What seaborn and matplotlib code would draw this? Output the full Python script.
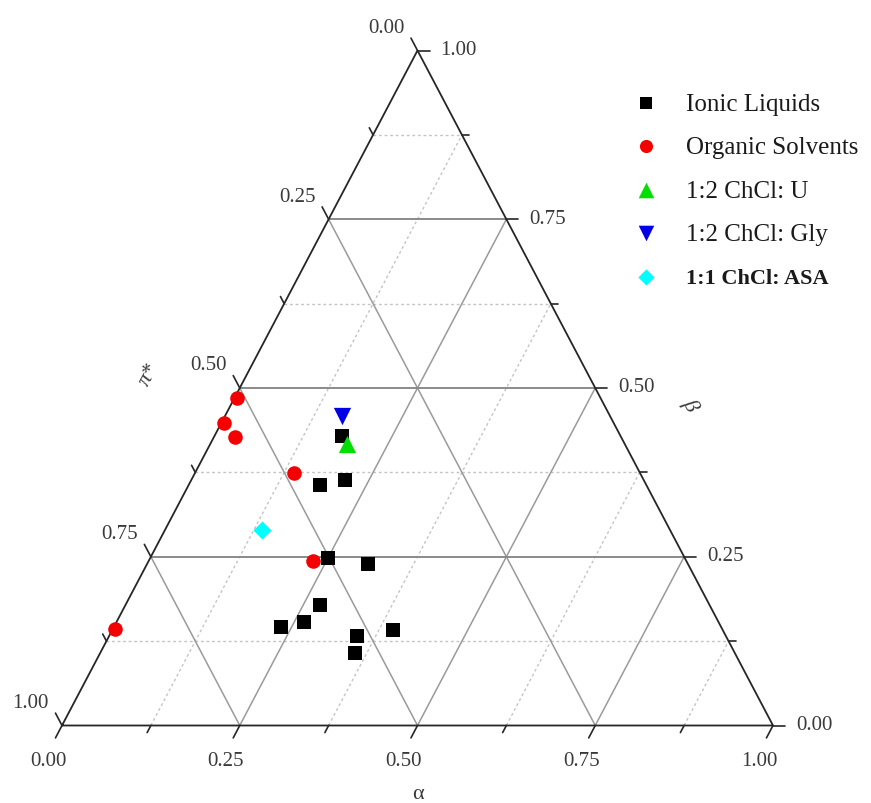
import numpy as np
import pandas as pd
import matplotlib
matplotlib.use("Agg")
import matplotlib.pyplot as plt
import seaborn as sns

# ---- data (normalised Kamlet-Taft parameters: alpha, beta; pi* = 1 - alpha - beta)
il_alpha = [0.179, 0.185, 0.216, 0.250, 0.311, 0.273, 0.264, 0.235, 0.349, 0.395, 0.358]
il_beta = [0.429, 0.356, 0.364, 0.248, 0.239, 0.179, 0.154, 0.146, 0.132, 0.142, 0.107]
os_alpha = [0.004, 0.004, 0.029, 0.139, 0.231, 0.003]
os_beta = [0.485, 0.448, 0.428, 0.374, 0.244, 0.143]
u_alpha = [0.192]
u_beta = [0.417]
gly_alpha = [0.164]
gly_beta = [0.459]
asa_alpha = [0.137]
asa_beta = [0.289]

group_names = ["Ionic Liquids", "Organic Solvents", "1:2 ChCl: U", "1:2 ChCl: Gly", "1:1 ChCl: ASA"]
tick_values = [0.0, 0.25, 0.5, 0.75, 1.0]
tick_labels = ["0.00", "0.25", "0.50", "0.75", "1.00"]
minor_values = [0.125, 0.375, 0.625, 0.875]
axis_titles = ["\u03b1", "\u03b2", "\u03c0*"]

rows = []
for name, al, be in zip(group_names,
                        [il_alpha, os_alpha, u_alpha, gly_alpha, asa_alpha],
                        [il_beta, os_beta, u_beta, gly_beta, asa_beta]):
    for a, b in zip(al, be):
        rows.append({"group": name, "alpha": a, "beta": b, "pi": 1 - a - b})
df = pd.DataFrame(rows)
# ternary projection: alpha vertex right, beta vertex top, pi* vertex left
df["x"] = df["alpha"] + df["beta"] / 2
df["y"] = df["beta"]

styles = {
    "Ionic Liquids": dict(marker="s", color="#000000", s=105),
    "Organic Solvents": dict(marker="o", color="#f50000", s=110),
    "1:2 ChCl: U": dict(marker="^", color="#00e000", s=155),
    "1:2 ChCl: Gly": dict(marker="v", color="#0000e6", s=155),
    "1:1 ChCl: ASA": dict(marker="D", color="#00ffff", s=85),
}

sns.set_theme(style="white")
plt.rcParams["font.family"] = ["Liberation Serif", "DejaVu Serif"]
plt.rcParams["mathtext.fontset"] = "stix"

W, H = 871, 804
fig = plt.figure(figsize=(W / 100, H / 100), dpi=100)
fig.patch.set_facecolor("white")
X0, X1, YB, YT = 62.0, 773.0, 726.5, 51.5
PW, PH = X1 - X0, YB - YT
ax = fig.add_axes([X0 / W, (H - YB) / H, PW / W, PH / H])
ax.set_xlim(0, 1)
ax.set_ylim(0, 1)
ax.set_axis_off()

def px(dx, dy):
    """pixel offset (dy positive = up) -> data offset"""
    return dx / PW, dy / PH

# ---- grid
for c in minor_values:
    ax.plot([c / 2, 1 - c / 2], [c, c], color="#c4c4c4", lw=1.0, ls=(0, (2, 2)), zorder=1)
    ax.plot([c, (1 + c) / 2], [0, 1 - c], color="#c4c4c4", lw=1.0, ls=(0, (2, 2)), zorder=1)
for c in tick_values[1:-1]:
    ax.plot([c / 2, 1 - c / 2], [c, c], color="#8a8a8a", lw=1.4, zorder=1.2)
    ax.plot([c, (1 + c) / 2], [0, 1 - c], color="#9a9a9a", lw=1.1, zorder=1.1)
    ax.plot([1 - c, (1 - c) / 2], [0, 1 - c], color="#9a9a9a", lw=1.1, zorder=1.1)

# ---- triangle frame
ax.plot([0, 1, 0.5, 0], [0, 0, 1, 0], color="#262626", lw=1.3, zorder=3,
        solid_joinstyle="miter", clip_on=False)

# ---- ticks
ux, uy = 0.466, 0.885
all_ticks = [(v, True) for v in tick_values] + [(v, False) for v in minor_values]
for v, major in all_ticks:
    L = 14 if major else 8
    # bottom (alpha): down-left
    dx, dy = px(-ux * L, -uy * L)
    ax.plot([v, v + dx], [0, dy], color="#262626", lw=1.2, clip_on=False, zorder=3)
    # right (beta): horizontal right
    xr, yr = 1 - v / 2, v
    dx, dy = px(12 if major else 7, 0)
    ax.plot([xr, xr + dx], [yr, yr], color="#262626", lw=1.2, clip_on=False, zorder=3)
    # left (pi*): up-left
    xl, yl = v / 2, v
    dx, dy = px(-ux * L, uy * L)
    ax.plot([xl, xl + dx], [yl, yl + dy], color="#262626", lw=1.2, clip_on=False, zorder=3)

tick_font = dict(fontsize=15, color="#3a3a3a")
for v, lab in zip(tick_values, tick_labels):
    dx, dy = px(-14, -35)
    ax.text(v + dx, dy, lab, ha="center", va="center", **tick_font)
for v, lab in zip(tick_values, tick_labels):
    dx, dy = px(23, 1)
    ax.text(1 - v / 2 + dx, v + dy, lab, ha="left", va="center", **tick_font)
for v, lab in zip(tick_values, tick_labels[::-1]):
    dx, dy = px(-13, 23)
    ax.text(v / 2 + dx, v + dy, lab, ha="right", va="center", **tick_font)

# axis titles
ax.text((418 - X0) / PW, (YB - 795) / PH, axis_titles[0], ha="center", va="center",
        fontsize=16, color="#3a3a3a")
ax.text((690 - X0) / PW, (YB - 405) / PH, axis_titles[1], ha="center", va="center",
        fontsize=16, color="#3a3a3a", rotation=-62, style="italic")
ax.text((149 - X0) / PW, (YB - 375) / PH, axis_titles[2], ha="center", va="center",
        fontsize=16, color="#3a3a3a", rotation=62, style="italic")

# ---- data points
for name in group_names:
    st = styles[name]
    sub = df[df["group"] == name]
    sns.scatterplot(data=sub, x="x", y="y", marker=st["marker"], color=st["color"],
                    s=st["s"], linewidth=0, ax=ax, label=name, zorder=5, clip_on=False,
                    legend=False)

handles, labels = ax.get_legend_handles_labels()
if not handles:
    from matplotlib.lines import Line2D
    handles = [Line2D([], [], ls="", marker=styles[n]["marker"], color=styles[n]["color"],
                      markersize=np.sqrt(styles[n]["s"])) for n in group_names]
    labels = group_names
leg = fig.legend(handles, labels, loc="upper left",
                 bbox_to_anchor=(633 / W, 1 - 93 / H), frameon=False,
                 fontsize=18, handlelength=1.0, handletextpad=1.1,
                 labelspacing=0.84, borderpad=0, borderaxespad=0, markerscale=0.9)
for t in leg.get_texts():
    t.set_color("#1a1a1a")
leg.get_texts()[-1].set_fontweight("bold")
leg.get_texts()[-1].set_fontsize(16)

fig.savefig("out.png", dpi=100, facecolor="white")
